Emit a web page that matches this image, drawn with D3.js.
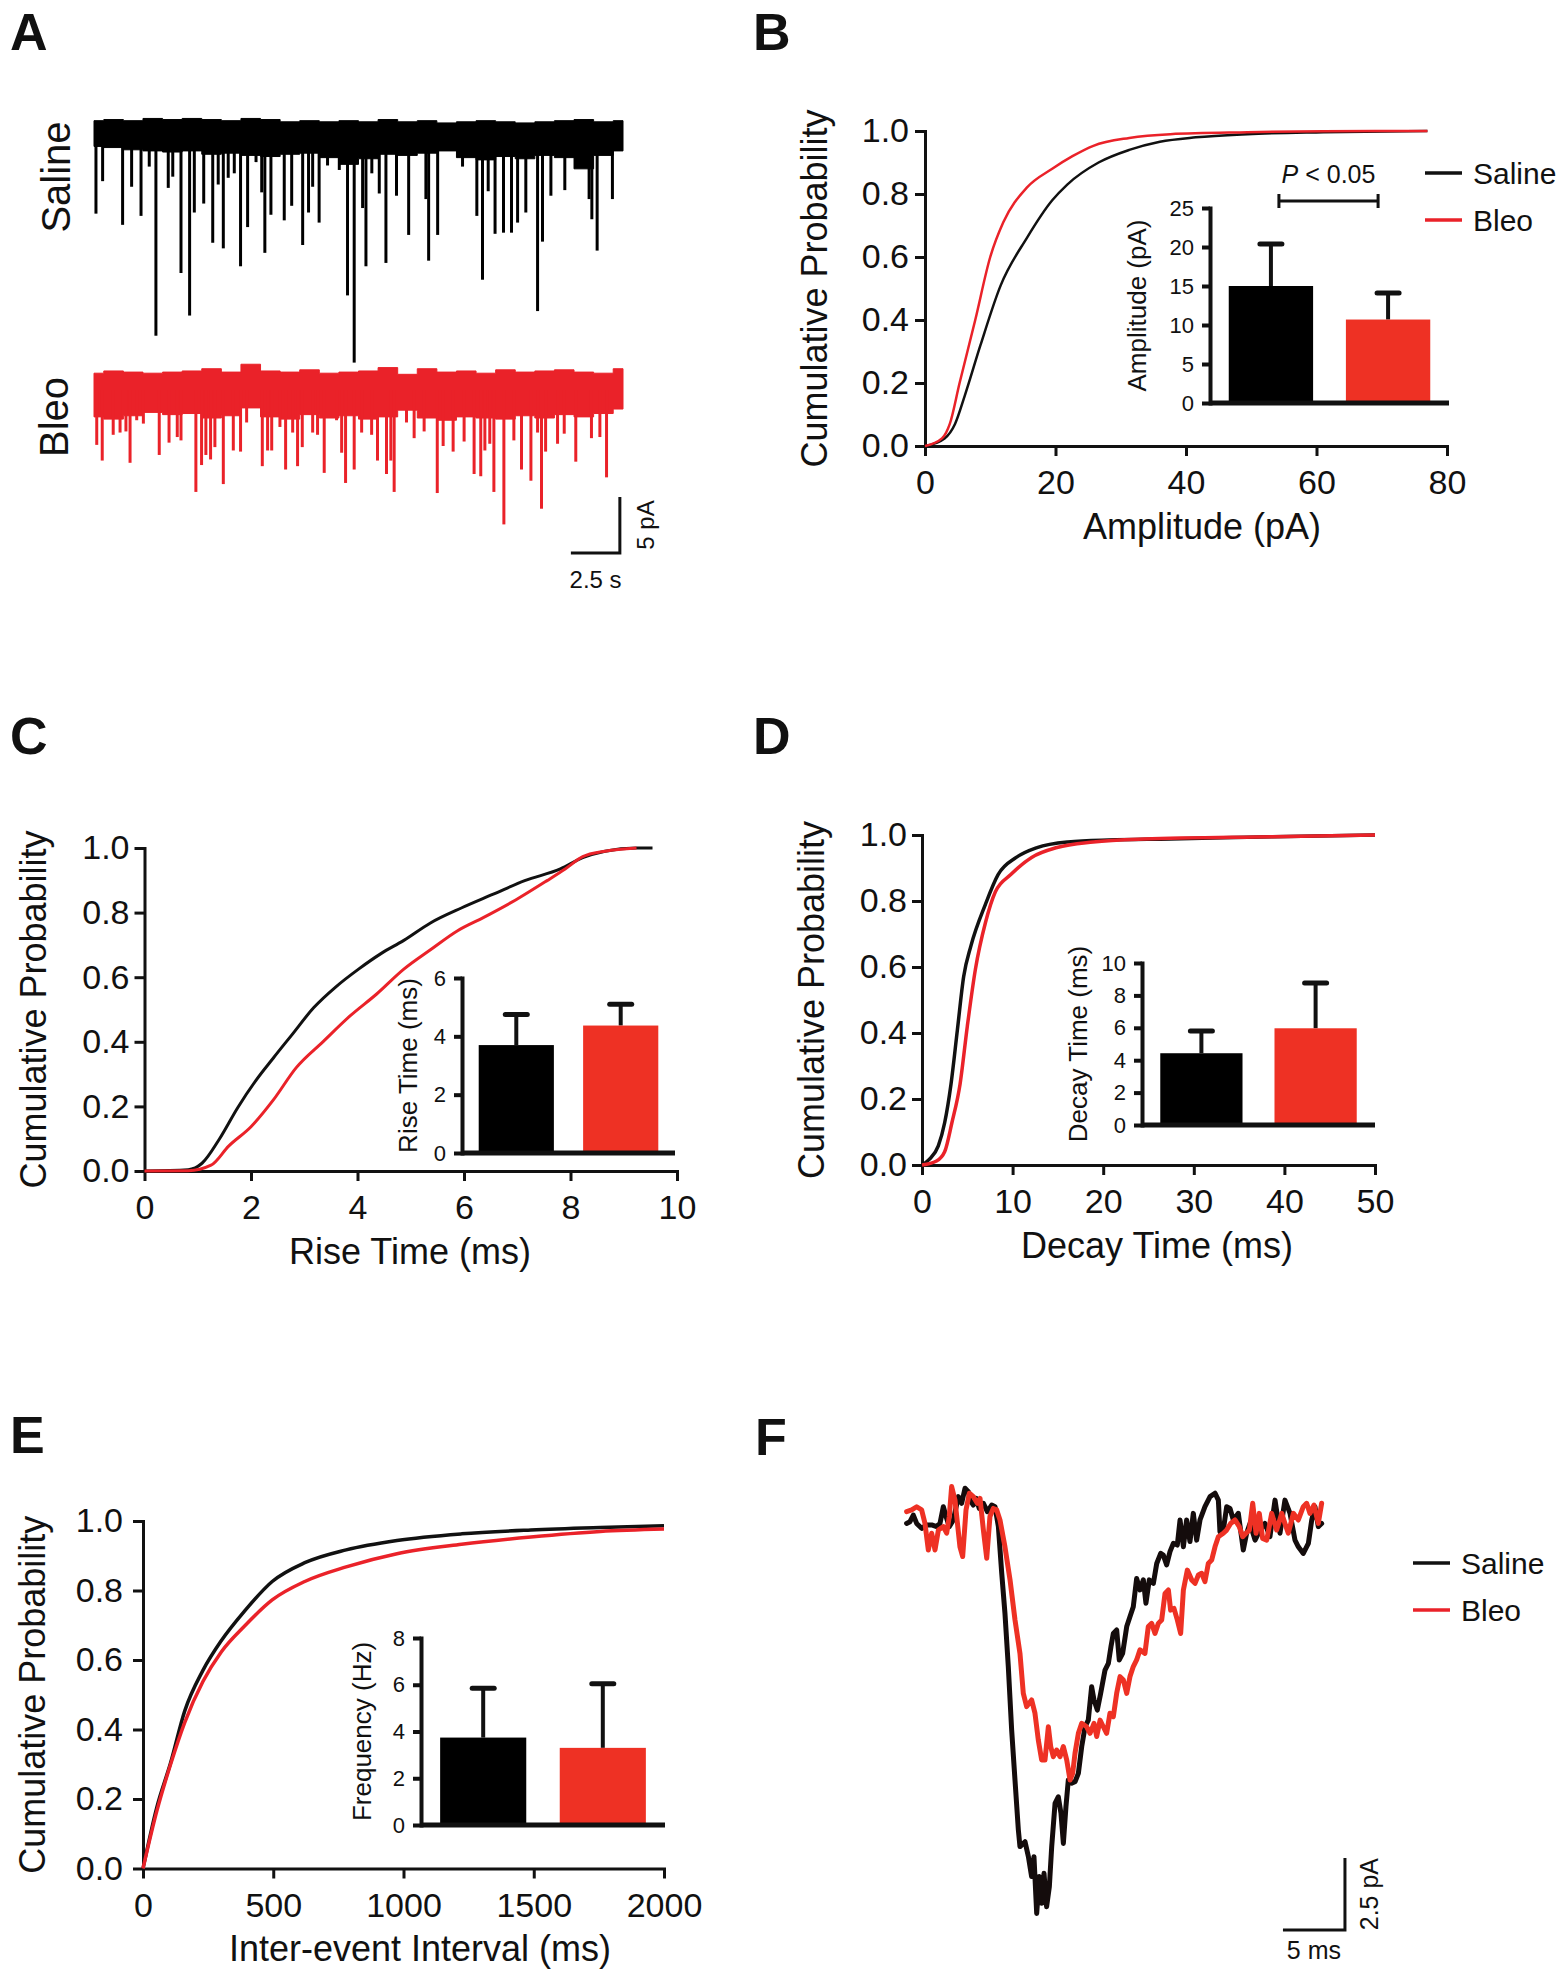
<!DOCTYPE html>
<html>
<head>
<meta charset="utf-8">
<script src="https://cdn.jsdelivr.net/npm/d3@7"></script>
<style>
  body { margin: 0; background: #fff; }
  svg { display: block; }
  text { font-family: "Liberation Sans", Arial, Helvetica, sans-serif; fill: #111; }
</style>
</head>
<body>
<div id="vis"></div>
<script>
// ---- data ----
const groups = ["Saline", "Bleo"];
const probTicks = [0, 0.2, 0.4, 0.6, 0.8, 1.0];

// panel A: noise band envelope (pA, per second) and events [time s, depth pA]
const envT = [0,1,2,3,4,5,6,7,8,9,10,11,12,13,14,15,16,17,18,19,20,21,22,23,24,25,26,27];
const salTop = [1.1,1.2,1.1,1.3,1.2,1.3,1.2,1.1,1.3,1.2,1.0,1.1,1.0,1.1,1.0,1.2,1.0,1.1,0.9,1.0,1.1,1.0,0.9,1.0,1.1,1.2,1.0,1.1];
const salBot = [-1.2,-1.3,-1.5,-1.6,-1.7,-1.6,-1.9,-1.8,-2.0,-2.1,-1.9,-1.8,-2.2,-2.8,-2.3,-1.9,-2.0,-1.8,-1.6,-2.2,-2.4,-2.1,-2.3,-2.0,-2.2,-3.2,-2.0,-1.6];
const bleoTop = [1.5,1.7,1.6,1.5,1.6,1.7,1.9,1.6,2.3,1.7,1.6,1.8,1.5,1.6,1.7,2.0,1.4,1.9,1.6,1.7,1.5,1.8,1.6,1.7,1.8,1.6,1.5,1.9];
const bleoBot = [-2.4,-2.6,-2.3,-2.0,-2.2,-2.1,-2.5,-2.3,-1.6,-2.4,-2.6,-2.2,-2.5,-2.3,-2.6,-2.4,-1.8,-2.5,-2.7,-2.4,-2.5,-2.6,-2.3,-2.5,-2.2,-2.4,-2.1,-1.7];
const salineEvents = [[0.10,7.2],[0.44,4.3],[1.46,8.2],[1.92,4.8],[2.40,7.4],[2.82,3.0],[3.16,18.1],[3.79,4.9],[4.02,3.9],[4.44,12.5],[4.88,16.3],[5.12,7.1],[5.60,6.3],[6.06,9.8],[6.34,4.6],[6.60,10.3],[6.85,4.0],[7.16,3.6],[7.48,11.9],[7.84,8.4],[8.27,2.6],[8.56,5.3],[8.72,10.7],[9.03,7.3],[9.71,7.8],[10.09,6.5],[10.65,10.0],[10.95,7.1],[11.16,4.8],[11.49,8.0],[11.92,2.9],[12.52,3.3],[12.94,14.5],[13.28,20.5],[13.71,6.7],[13.88,11.9],[14.18,3.6],[14.56,5.4],[14.90,11.6],[15.44,5.6],[16.06,9.1],[16.94,5.9],[17.08,11.4],[17.54,9.1],[18.81,3.0],[19.54,7.4],[19.83,13.1],[20.12,5.2],[20.47,9.0],[20.90,8.9],[21.31,8.9],[21.62,8.0],[22.04,7.1],[22.64,15.9],[22.89,9.7],[23.32,5.6],[24.03,5.1],[25.27,5.9],[25.41,7.7],[25.68,10.5],[26.46,5.9]];
const bleoEvents = [[0.14,4.9],[0.42,6.3],[0.98,4.0],[1.33,3.8],[1.63,3.7],[1.84,6.5],[2.18,2.7],[2.52,3.0],[3.33,5.8],[3.83,4.7],[4.25,4.2],[4.44,4.5],[5.20,9.1],[5.49,6.7],[5.71,5.8],[5.95,6.2],[6.17,5.1],[6.60,8.4],[7.11,5.4],[7.48,5.5],[7.79,2.9],[8.59,6.8],[8.86,5.4],[9.07,5.4],[9.49,3.3],[9.78,7.1],[10.14,3.8],[10.39,6.8],[10.63,5.1],[11.16,3.8],[11.41,4.0],[11.75,7.4],[12.38,2.7],[12.64,5.6],[12.84,8.3],[13.28,7.1],[13.66,3.8],[14.17,4.0],[14.47,6.3],[14.93,7.5],[15.15,6.3],[15.32,9.1],[15.95,2.9],[16.34,4.3],[16.85,3.7],[17.52,9.2],[17.82,5.0],[18.33,5.5],[18.89,4.6],[19.40,7.5],[19.74,7.7],[19.95,5.4],[20.20,4.8],[20.41,9.1],[20.92,12.0],[21.43,4.5],[21.82,7.1],[22.30,8.1],[22.64,3.8],[22.84,10.6],[23.05,5.5],[23.66,4.8],[24.00,3.9],[24.59,6.4],[25.39,4.3],[25.82,4.2],[26.16,7.8]];

// cumulative distributions [value, probability]
const ampSaline = [[0,0],[3,0.024],[4.6,0.07],[6.1,0.16],[8.5,0.32],[11.6,0.51],[15.6,0.66],[19.5,0.78],[21.8,0.83],[26.6,0.90],[31.3,0.94],[36,0.966],[41.5,0.98],[49.4,0.99],[61,0.996],[77,1.0]];
const ampBleo = [[0,0],[2.6,0.024],[3.8,0.07],[5.3,0.2],[7.7,0.4],[10,0.6],[12,0.71],[15.6,0.82],[19.5,0.88],[22.6,0.92],[25.8,0.953],[31.3,0.978],[37.6,0.99],[49.4,0.996],[69,1.0],[77,1.0]];
const riseSaline = [[0,0],[0.82,0.004],[1.08,0.024],[1.41,0.10],[1.75,0.196],[2.09,0.28],[2.42,0.35],[2.76,0.42],[3.18,0.506],[3.6,0.571],[4.02,0.625],[4.44,0.673],[4.87,0.714],[5.37,0.768],[5.96,0.815],[6.55,0.857],[7.14,0.899],[7.81,0.935],[8.23,0.97],[8.65,0.99],[9.24,1.0],[9.54,1.0]];
const riseBleo = [[0,0],[0.82,0.001],[1.25,0.018],[1.58,0.077],[2.0,0.137],[2.42,0.22],[2.85,0.32],[3.35,0.40],[3.86,0.48],[4.36,0.548],[4.87,0.625],[5.37,0.685],[5.88,0.744],[6.38,0.786],[6.97,0.839],[7.56,0.899],[7.9,0.935],[8.23,0.973],[8.65,0.99],[9.24,1.0]];
const decaySaline = [[0,0],[0.8,0.017],[1.8,0.058],[2.5,0.128],[3.2,0.245],[3.9,0.408],[4.6,0.571],[5.4,0.664],[7.0,0.79],[8.4,0.88],[10.4,0.932],[12.7,0.962],[16.1,0.979],[20.6,0.985],[27.4,0.988],[38.7,0.995],[50,1.0]];
const decayBleo = [[0,0],[1.6,0.012],[2.5,0.04],[3.3,0.128],[4.2,0.245],[5.0,0.42],[5.9,0.594],[7.0,0.734],[8.1,0.828],[9.8,0.88],[12.1,0.932],[14.9,0.962],[18.9,0.979],[24.5,0.988],[38.7,0.995],[50,1.0]];
const ieiSaline = [[0,0],[53,0.176],[106,0.304],[160,0.453],[230,0.57],[301,0.656],[390,0.741],[496,0.826],[621,0.88],[780,0.917],[975,0.944],[1223,0.963],[1489,0.974],[1755,0.981],[2000,0.986]];
const ieiBleo = [[0,0],[53,0.165],[106,0.30],[160,0.42],[230,0.538],[301,0.624],[390,0.698],[496,0.773],[621,0.826],[780,0.868],[975,0.906],[1223,0.933],[1489,0.954],[1755,0.97],[2000,0.977]];

// inset bars: mean and SEM
const ampMean = [15.0, 10.7], ampErr = [5.4, 3.4];
const riseMean = [3.7, 4.37], riseErr = [1.05, 0.73];
const decayMean = [4.43, 5.97], decayErr = [1.37, 2.8];
const freqMean = [3.74, 3.3], freqErr = [2.11, 2.74];

// panel F: averaged events [time ms, current pA]
const avgSaline = [[0.05,-0.05],[0.32,0.01],[0.59,0.24],[0.86,-0.05],[1.26,-0.22],[1.67,-0.10],[2.07,-0.10],[2.47,-0.16],[2.74,-0.05],[3.01,0.53],[3.23,0.19],[3.49,-0.16],[3.82,0.07],[4.22,0.88],[4.49,0.65],[4.76,1.17],[5.03,1.05],[5.16,0.76],[5.43,0.59],[5.65,0.82],[5.91,0.47],[6.24,0.65],[6.56,0.36],[6.91,0.59],[7.18,0.53],[7.45,-0.16],[7.72,-1.78],[7.98,-3.17],[8.25,-5.02],[8.52,-7.22],[8.79,-8.96],[9.06,-10.69],[9.19,-11.27],[9.60,-11.10],[9.87,-11.62],[10.13,-12.31],[10.32,-11.62],[10.54,-13.59],[10.75,-12.31],[10.94,-13.24],[11.13,-12.20],[11.34,-13.36],[11.56,-12.66],[11.75,-11.27],[12.02,-9.77],[12.28,-9.54],[12.50,-10.12],[12.69,-11.16],[12.90,-9.88],[13.09,-8.96],[13.36,-9.07],[13.63,-9.02],[13.90,-8.73],[14.17,-7.80],[14.44,-7.11],[14.70,-6.88],[14.97,-5.72],[15.16,-6.18],[15.43,-6.53],[15.70,-5.95],[16.05,-5.14],[16.32,-4.91],[16.53,-4.33],[16.72,-3.87],[16.99,-3.75],[17.20,-4.79],[17.47,-4.56],[17.80,-3.63],[18.06,-3.29],[18.33,-2.94],[18.60,-1.96],[18.87,-2.36],[19.14,-2.01],[19.35,-2.82],[19.62,-2.01],[19.95,-2.13],[20.22,-1.44],[20.54,-1.09],[20.75,-1.15],[21.02,-1.49],[21.29,-1.03],[21.56,-0.74],[21.88,-0.80],[22.10,0.07],[22.37,-0.86],[22.63,0.07],[22.90,-0.68],[23.17,0.30],[23.44,-0.63],[23.71,0.07],[24.11,0.53],[24.52,0.88],[24.92,1.00],[25.19,0.76],[25.32,-0.34],[25.59,-0.28],[25.86,0.53],[26.13,0.47],[26.40,0.07],[26.80,0.30],[27.20,-0.97],[27.47,-0.39],[27.74,-0.05],[28.15,-0.63],[28.55,-0.28],[28.95,-0.05],[29.35,-0.51],[29.76,0.76],[30.16,-0.39],[30.56,0.76],[30.97,0.30],[31.37,-0.63],[31.64,-0.86],[32.04,-1.09],[32.45,-0.74],[32.72,0.07],[32.98,0.53],[33.25,-0.16],[33.52,-0.05]];
const avgBleo = [[0.05,0.36],[0.46,0.42],[0.86,0.53],[1.26,0.42],[1.53,-0.05],[1.80,-0.97],[2.07,-0.39],[2.34,-0.97],[2.61,-0.28],[3.01,-0.16],[3.28,-0.39],[3.49,0.19],[3.68,1.23],[3.95,0.76],[4.35,-0.86],[4.57,-1.20],[4.84,0.42],[5.11,1.00],[5.43,0.88],[5.75,0.65],[5.97,0.82],[6.24,-0.28],[6.51,-1.26],[6.77,0.19],[7.04,0.47],[7.31,0.42],[7.58,0.07],[7.98,-0.86],[8.39,-2.01],[8.79,-3.40],[9.19,-4.56],[9.46,-5.95],[9.73,-6.41],[10.13,-6.18],[10.40,-6.64],[10.67,-7.57],[10.94,-8.26],[11.21,-8.26],[11.48,-7.11],[11.67,-7.80],[11.88,-8.15],[12.15,-7.92],[12.42,-8.15],[12.69,-7.80],[12.96,-8.26],[13.23,-8.96],[13.44,-8.73],[13.63,-8.03],[13.90,-7.34],[14.17,-6.99],[14.57,-7.11],[14.84,-7.34],[15.16,-6.99],[15.38,-7.45],[15.65,-6.88],[15.91,-7.11],[16.18,-7.34],[16.45,-6.64],[16.72,-6.76],[16.99,-5.95],[17.26,-5.37],[17.53,-5.49],[17.80,-5.95],[18.06,-5.37],[18.33,-5.02],[18.60,-4.79],[18.87,-4.44],[19.27,-4.56],[19.54,-3.63],[19.81,-3.52],[20.08,-3.87],[20.35,-3.52],[20.62,-3.40],[20.89,-2.48],[21.16,-2.36],[21.34,-3.06],[21.61,-3.00],[21.88,-3.40],[22.15,-3.87],[22.37,-2.36],[22.69,-1.67],[23.04,-2.01],[23.31,-2.13],[23.58,-1.84],[23.84,-1.78],[24.11,-2.07],[24.38,-1.44],[24.65,-1.32],[24.92,-0.86],[25.19,-0.51],[25.59,-0.39],[25.86,-0.28],[26.18,-0.05],[26.53,0.07],[26.88,-0.16],[27.15,-0.51],[27.42,-0.39],[27.69,-0.28],[27.96,0.65],[28.23,-0.39],[28.49,0.30],[28.76,-0.57],[29.09,-0.63],[29.49,0.30],[29.89,-0.28],[30.30,0.30],[30.56,-0.05],[30.83,-0.39],[31.24,0.30],[31.64,0.07],[32.04,0.53],[32.31,0.65],[32.58,0.30],[32.90,0.59],[33.25,-0.05],[33.52,0.65]];

// ---- drawing ----
const BLACK = "#111", RED = "#ea2229", BAR_RED = "#ee3124";

var svg = d3.select("#vis")
            .append("svg")
            .attr("width", 1560)
            .attr("height", 1978);
svg.append("rect").attr("width", 1560).attr("height", 1978).attr("fill", "#fff");

function panelLetter(txt, x, y) {
    svg.append("text")
       .attr("x", x).attr("y", y)
       .style("font-size", "52px")
       .style("font-weight", "bold")
       .text(txt);
}

function styleAxis(a, w, fs) {
    a.select(".domain").attr("stroke", BLACK).attr("stroke-width", w).attr("stroke-linecap", "square");
    a.selectAll(".tick line").attr("stroke", BLACK).attr("stroke-width", w);
    a.selectAll(".tick text").style("font-size", fs + "px").attr("fill", BLACK);
}

function rotLabel(txt, x, y, fs) {
    svg.append("text")
       .attr("transform", "translate(" + x + "," + y + ") rotate(-90)")
       .attr("text-anchor", "middle")
       .attr("dy", "0.35em")
       .style("font-size", fs + "px")
       .text(txt);
}

function legend(x, y, gap) {
    [BLACK, RED].forEach(function (c, i) {
        svg.append("line")
           .attr("x1", x).attr("x2", x + 37)
           .attr("y1", y + i * gap).attr("y2", y + i * gap)
           .attr("stroke", c).attr("stroke-width", 3.5);
        svg.append("text")
           .attr("x", x + 48).attr("y", y + i * gap)
           .attr("dy", "0.35em")
           .style("font-size", "30px")
           .text(groups[i]);
    });
}

// cumulative probability panel
function cdfPanel(p, saline, bleo) {
    var x = d3.scaleLinear().domain(p.xDomain).range([p.left, p.right]);
    var y = d3.scaleLinear().domain([0, 1]).range([p.bottom, p.top]);

    var xa = svg.append("g").attr("transform", "translate(0," + p.bottom + ")")
        .call(d3.axisBottom(x).tickValues(p.xTicks).tickFormat(d3.format("d"))
              .tickSize(10).tickSizeOuter(0).tickPadding(14));
    var ya = svg.append("g").attr("transform", "translate(" + p.left + ",0)")
        .call(d3.axisLeft(y).tickValues(probTicks).tickFormat(d3.format(".1f"))
              .tickSize(10).tickSizeOuter(0).tickPadding(p.yPad));
    styleAxis(xa, 3, 34);
    styleAxis(ya, 3, 34);

    var line = d3.line().x(d => x(d[0])).y(d => y(d[1])).curve(d3.curveMonotoneX);
    [[saline, BLACK], [bleo, RED]].forEach(function (s) {
        svg.append("path").datum(s[0])
           .attr("d", line)
           .attr("fill", "none")
           .attr("stroke", s[1])
           .attr("stroke-width", p.lw)
           .attr("stroke-linejoin", "round");
    });

    rotLabel("Cumulative Probability", p.left - 111, (p.top + p.bottom) / 2, 36);
    svg.append("text")
       .attr("x", p.xLabelX).attr("y", p.bottom + 80)
       .attr("text-anchor", "middle").attr("dy", "0.35em")
       .style("font-size", "36px")
       .text(p.xLabel);
}

// bar inset
function inset(p, means, errs) {
    var x = d3.scaleBand().domain(groups).range([p.left, p.right]).paddingInner(0.28).paddingOuter(0.16);
    var y = d3.scaleLinear().domain(p.yDomain).range([p.bottom, p.top]);
    var rows = groups.map((g, i) => ({ g: g, m: means[i], e: errs[i] }));

    var eg = svg.append("g");
    eg.selectAll("line.err").data(rows).enter().append("line")
      .attr("x1", d => x(d.g) + x.bandwidth() / 2).attr("x2", d => x(d.g) + x.bandwidth() / 2)
      .attr("y1", d => y(d.m)).attr("y2", d => y(d.m + d.e))
      .attr("stroke", BLACK).attr("stroke-width", 4);
    eg.selectAll("line.cap").data(rows).enter().append("line")
      .attr("x1", d => x(d.g) + x.bandwidth() / 2 - 11).attr("x2", d => x(d.g) + x.bandwidth() / 2 + 11)
      .attr("y1", d => y(d.m + d.e)).attr("y2", d => y(d.m + d.e))
      .attr("stroke", BLACK).attr("stroke-width", 5).attr("stroke-linecap", "round");

    svg.selectAll(null).data(rows).enter().append("rect")
       .attr("x", d => x(d.g)).attr("y", d => y(d.m))
       .attr("width", x.bandwidth()).attr("height", d => p.bottom - y(d.m))
       .attr("fill", (d, i) => i === 0 ? "#000" : BAR_RED);

    var ya = svg.append("g").attr("transform", "translate(" + p.left + ",0)")
        .call(d3.axisLeft(y).tickValues(p.ticks).tickFormat(d3.format("d"))
              .tickSize(8).tickSizeOuter(0).tickPadding(8));
    styleAxis(ya, 4, 22);
    svg.append("line")
       .attr("x1", p.left).attr("x2", p.right)
       .attr("y1", p.bottom).attr("y2", p.bottom)
       .attr("stroke", BLACK).attr("stroke-width", 5);

    rotLabel(p.label, p.labelX, (p.top + p.bottom) / 2, 26);
    return { x: x, y: y };
}

// ---- A: raw traces ----
panelLetter("A", 10, 50);
var tx = d3.scaleLinear().domain([0, 27]).range([94, 623]);
var ySal = d3.scaleLinear().domain([0, -1]).range([133, 144.2]);
var yBleo = d3.scaleLinear().domain([0, -1]).range([390, 401.2]);

function rawTrace(top, bot, events, ys, color) {
    var band = d3.area()
        .x((d, i) => tx(envT[i]))
        .y0((d, i) => ys(bot[i]))
        .y1((d, i) => ys(top[i]))
        .curve(d3.curveStep);
    svg.append("path").datum(top).attr("d", band).attr("fill", color).attr("stroke", color).attr("stroke-width", 1);
    svg.selectAll(null).data(events).enter().append("line")
       .attr("x1", d => tx(d[0])).attr("x2", d => tx(d[0]))
       .attr("y1", ys(0)).attr("y2", d => ys(-d[1]))
       .attr("stroke", color).attr("stroke-width", 3);
}
rawTrace(salTop, salBot, salineEvents, ySal, "#000");
rawTrace(bleoTop, bleoBot, bleoEvents, yBleo, RED);
rotLabel("Saline", 56, 177, 40);
rotLabel("Bleo", 54, 417, 40);

// scale bar A: 2.5 s, 5 pA
svg.append("path")
   .attr("d", "M" + tx(24.34) + "," + yBleo(-14.55) + "H" + tx(26.84) + "V" + yBleo(-9.55))
   .attr("fill", "none").attr("stroke", BLACK).attr("stroke-width", 3);
svg.append("text").attr("x", tx(25.6)).attr("y", yBleo(-14.55) + 27)
   .attr("text-anchor", "middle").attr("dy", "0.35em").style("font-size", "24px").text("2.5 s");
rotLabel("5 pA", tx(26.84) + 26, yBleo(-12.05), 24);

// ---- B ----
panelLetter("B", 753, 50);
cdfPanel({ xDomain: [0, 80], xTicks: [0, 20, 40, 60, 80], left: 925, right: 1447, top: 131, bottom: 446,
           yPad: 6, lw: 2.5, xLabel: "Amplitude (pA)", xLabelX: 1202 }, ampSaline, ampBleo);
var ib = inset({ left: 1210, right: 1449, top: 208, bottom: 403, yDomain: [0, 25], ticks: [0, 5, 10, 15, 20, 25],
                 label: "Amplitude (pA)", labelX: 1137 }, ampMean, ampErr);
// significance bracket
var bx1 = ib.x("Saline") + ib.x.bandwidth() / 2 + 8, bx2 = ib.x("Bleo") + ib.x.bandwidth() / 2 - 10, by = ib.y(25.9);
svg.append("path")
   .attr("d", "M" + bx1 + "," + (by - 7) + "V" + (by + 7) + "M" + bx1 + "," + by + "H" + bx2 + "M" + bx2 + "," + (by - 7) + "V" + (by + 7))
   .attr("fill", "none").attr("stroke", BLACK).attr("stroke-width", 3);
var pt = svg.append("text").attr("x", (bx1 + bx2) / 2).attr("y", ib.y(28.2))
   .attr("text-anchor", "middle").style("font-size", "25px");
pt.append("tspan").style("font-style", "italic").text("P");
pt.append("tspan").text(" < 0.05");
legend(1425, 173, 47);

// ---- C ----
panelLetter("C", 10, 754);
cdfPanel({ xDomain: [0, 10], xTicks: [0, 2, 4, 6, 8, 10], left: 144.5, right: 677, top: 848, bottom: 1171,
           yPad: 5, lw: 3, xLabel: "Rise Time (ms)", xLabelX: 410 }, riseSaline, riseBleo);
inset({ left: 462, right: 675, top: 978, bottom: 1153, yDomain: [0, 6], ticks: [0, 2, 4, 6],
        label: "Rise Time (ms)", labelX: 408 }, riseMean, riseErr);

// ---- D ----
panelLetter("D", 753, 754);
cdfPanel({ xDomain: [0, 50], xTicks: [0, 10, 20, 30, 40, 50], left: 922, right: 1375, top: 835, bottom: 1165,
           yPad: 5, lw: 3.5, xLabel: "Decay Time (ms)", xLabelX: 1157 }, decaySaline, decayBleo);
inset({ left: 1142, right: 1375, top: 963, bottom: 1125, yDomain: [0, 10], ticks: [0, 2, 4, 6, 8, 10],
        label: "Decay Time (ms)", labelX: 1078 }, decayMean, decayErr);

// ---- E ----
panelLetter("E", 10, 1453);
cdfPanel({ xDomain: [0, 2000], xTicks: [0, 500, 1000, 1500, 2000], left: 143, right: 664, top: 1521, bottom: 1868.5,
           yPad: 10, lw: 3.5, xLabel: "Inter-event Interval (ms)", xLabelX: 420 }, ieiSaline, ieiBleo);
inset({ left: 421, right: 665, top: 1638, bottom: 1825, yDomain: [0, 8], ticks: [0, 2, 4, 6, 8],
        label: "Frequency (Hz)", labelX: 362 }, freqMean, freqErr);

// ---- F: averaged events ----
panelLetter("F", 755, 1455);
var fx = d3.scaleLinear().domain([0, 35.4]).range([906, 906 + 35.4 * 12.4]);
var fy = d3.scaleLinear().domain([-15, 2]).range([1522 + 15 * 28.8, 1522 - 2 * 28.8]);
var fline = d3.line().x(d => fx(d[0])).y(d => fy(d[1]));
[[avgSaline, "#140c0c"], [avgBleo, BAR_RED]].forEach(function (s) {
    svg.append("path").datum(s[0])
       .attr("d", fline)
       .attr("fill", "none")
       .attr("stroke", s[1])
       .attr("stroke-width", 5)
       .attr("stroke-linejoin", "round")
       .attr("stroke-linecap", "round");
});
legend(1413, 1563, 47);

// scale bar F: 5 ms, 2.5 pA
svg.append("path")
   .attr("d", "M" + fx(30.4) + "," + fy(-14.17) + "H" + fx(35.4) + "V" + fy(-11.67))
   .attr("fill", "none").attr("stroke", BLACK).attr("stroke-width", 3);
svg.append("text").attr("x", fx(32.9)).attr("y", fy(-14.17) + 20)
   .attr("text-anchor", "middle").attr("dy", "0.35em").style("font-size", "25px").text("5 ms");
rotLabel("2.5 pA", fx(35.4) + 24, fy(-12.92), 25);
</script>
</body>
</html>
